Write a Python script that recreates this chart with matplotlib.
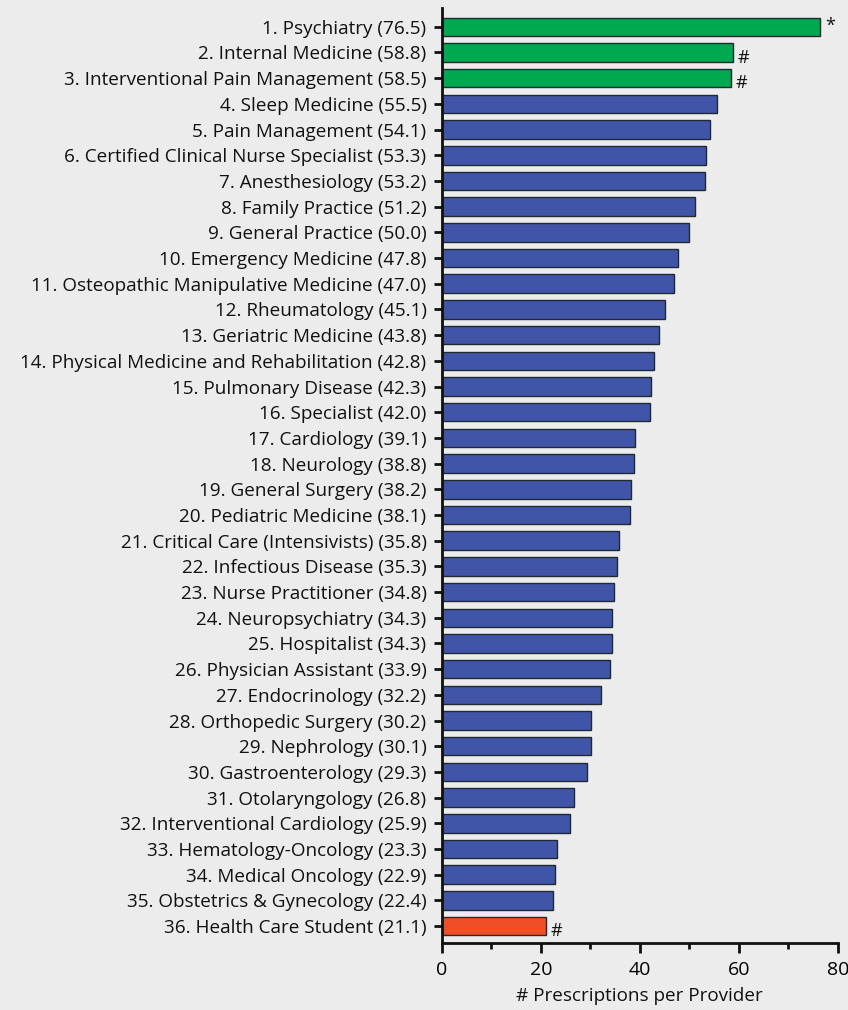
import matplotlib
matplotlib.use("Agg")
import matplotlib.pyplot as plt
import numpy as np

specialties = [
    "Psychiatry", "Internal Medicine", "Interventional Pain Management",
    "Sleep Medicine", "Pain Management", "Certified Clinical Nurse Specialist",
    "Anesthesiology", "Family Practice", "General Practice", "Emergency Medicine",
    "Osteopathic Manipulative Medicine", "Rheumatology", "Geriatric Medicine",
    "Physical Medicine and Rehabilitation", "Pulmonary Disease", "Specialist",
    "Cardiology", "Neurology", "General Surgery", "Pediatric Medicine",
    "Critical Care (Intensivists)", "Infectious Disease", "Nurse Practitioner",
    "Neuropsychiatry", "Hospitalist", "Physician Assistant", "Endocrinology",
    "Orthopedic Surgery", "Nephrology", "Gastroenterology", "Otolaryngology",
    "Interventional Cardiology", "Hematology-Oncology", "Medical Oncology",
    "Obstetrics & Gynecology", "Health Care Student",
]
rx_per_provider = [
    76.5, 58.8, 58.5, 55.5, 54.1, 53.3, 53.2, 51.2, 50.0, 47.8, 47.0, 45.1,
    43.8, 42.8, 42.3, 42.0, 39.1, 38.8, 38.2, 38.1, 35.8, 35.3, 34.8, 34.3,
    34.3, 33.9, 32.2, 30.2, 30.1, 29.3, 26.8, 25.9, 23.3, 22.9, 22.4, 21.1,
]
# group: "hi" = significantly higher, "lo" = lower, "" = the rest
groups = ["hi", "hi", "hi"] + [""] * 32 + ["lo"]
marks = {0: "*", 1: "#", 2: "#", 35: "#"}

colors = {"hi": "#00a84f", "": "#4054a8", "lo": "#f04e24"}
bg = "#ececec"

plt.rcParams["font.family"] = ["Open Sans", "DejaVu Sans"]
plt.rcParams["font.weight"] = "medium"

fig = plt.figure(figsize=(8.48, 10.1), dpi=100, facecolor=bg)
ax = fig.add_axes([0.521, 0.0663, 0.467, 0.926])
ax.set_facecolor(bg)

y = np.arange(len(specialties))
labels = ["%d. %s (%.1f)" % (i + 1, s, v) for i, (s, v) in enumerate(zip(specialties, rx_per_provider))]
ax.barh(y, rx_per_provider, height=0.72, color=[colors[g] for g in groups],
        edgecolor="#1f2a33", linewidth=1.0, zorder=2)

for i, m in marks.items():
    dy = -0.05 if m == "*" else 0.2
    ax.text(rx_per_provider[i] + 0.9, y[i] + dy, m, fontsize=13, va="center", ha="left", color="#111111")

ax.set_yticks(y)
ax.set_yticklabels(labels, fontsize=13.6, color="#111111")
ax.set_ylim(35.66, -0.74)
ax.set_xlim(0, 80)
ax.set_xticks([0, 20, 40, 60, 80])
ax.set_xticks([10, 30, 50, 70], minor=True)
ax.tick_params(axis="x", which="major", length=7, width=2, labelsize=14, pad=6, color="#111111")
ax.tick_params(axis="x", which="minor", length=4, width=2, color="#111111")
ax.tick_params(axis="y", length=6, width=2, pad=5, color="#111111")
ax.set_xlabel("# Prescriptions per Provider", fontsize=13.6, labelpad=6, color="#111111")

for s in ["top", "right"]:
    ax.spines[s].set_visible(False)
for s in ["left", "bottom"]:
    ax.spines[s].set_linewidth(2)
    ax.spines[s].set_color("#111111")

fig.savefig("out.png", dpi=100, facecolor=bg)
